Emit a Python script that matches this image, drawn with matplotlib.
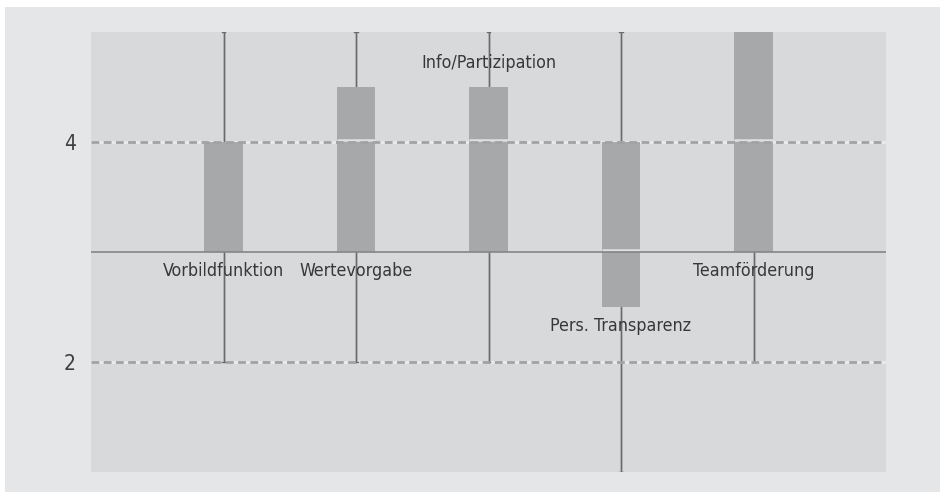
import matplotlib.pyplot as plt
from matplotlib.patches import Rectangle
from matplotlib.transforms import ScaledTranslation

# box statistics per dimension
categories = ["Vorbildfunktion", "Wertevorgabe", "Info/Partizipation",
              "Pers. Transparenz", "Teamförderung"]
whisker_low = [2, 2, 2, 1, 2]
quart_low = [3, 3, 3, 2.5, 3]
medians = [4, 4, 4, 3, 4]
quart_high = [4, 4.5, 4.5, 4, 5]
whisker_high = [5, 5, 5, 5, 5]
label_above = [False, False, True, False, False]

plt.rcParams["font.family"] = ["DejaVu Sans"]
plt.rcParams["font.stretch"] = "condensed"

W, H = 940, 492
fig = plt.figure(figsize=(W / 100, H / 100), dpi=100)
fig.patch.set_facecolor("white")
fig.add_artist(Rectangle((5 / W, 0), 935 / W, 485 / H, transform=fig.transFigure,
                         facecolor="#e5e6e8", edgecolor="none", zorder=0))

left, top, right, bottom = 91, 32, 886, 472
ax = fig.add_axes([left / W, (H - bottom) / H, (right - left) / W, (bottom - top) / H])
ax.set_facecolor("#d8d9db")
for s in ax.spines.values():
    s.set_visible(False)

positions = list(range(1, len(categories) + 1))
stats = []
for i, name in enumerate(categories):
    stats.append({"label": name, "whislo": whisker_low[i], "q1": quart_low[i],
                  "med": medians[i], "q3": quart_high[i], "whishi": whisker_high[i],
                  "fliers": []})

# light band under the dashed grid lines
for y in (2, 4):
    ax.axhline(y, color="#ebebec", lw=2, zorder=0.5)

# whiskers run the full range behind the boxes
ax.vlines(positions, whisker_low, whisker_high, color="#6a6a6a", lw=1, zorder=1)

parts = ax.bxp(stats, positions=positions, widths=0.29, patch_artist=True, showfliers=False,
               boxprops=dict(facecolor="#a7a8aa", edgecolor="none", zorder=2),
               medianprops=dict(color="#dfe0e2", lw=1.8, zorder=2.5),
               whiskerprops=dict(color="#6a6a6a", lw=1, zorder=1),
               capprops=dict(color="#6a6a6a", lw=1, zorder=1),
               capwidths=0.03, manage_ticks=False)

# median drawn as a thin gap just above the value, kept inside its box
shift = ax.transData + ScaledTranslation(0, 2.5 / 100, fig.dpi_scale_trans)
for med, box in zip(parts["medians"], parts["boxes"]):
    med.set_transform(shift)
    med.set_clip_path(box)
ax.vlines(positions, medians, medians, color="#6a6a6a", lw=1, zorder=2.6,
          transform=shift)

for y in (2, 4):
    ax.axhline(y, color="#a2a2a4", lw=2, ls=(0, (2.8, 1.6)), zorder=3)
ax.axhline(3, color="#86868a", lw=1.2, zorder=3)

for i, name in enumerate(categories):
    if label_above[i]:
        ax.annotate(name, (positions[i], quart_high[i]), xytext=(0, 17),
                    textcoords="offset points", ha="center", va="center",
                    fontsize=12.8, color="#383838", zorder=4)
    else:
        ax.annotate(name, (positions[i], quart_low[i]), xytext=(0, -14),
                    textcoords="offset points", ha="center", va="center",
                    fontsize=12.8, color="#383838", zorder=4)

ax.set_xlim(0, 6)
ax.set_ylim(1, 5)
ax.set_xticks([])
ax.set_yticks([2, 4])
ax.tick_params(axis="y", length=0, pad=11, labelsize=15, labelcolor="#404040")

fig.savefig("out.png", dpi=100)
